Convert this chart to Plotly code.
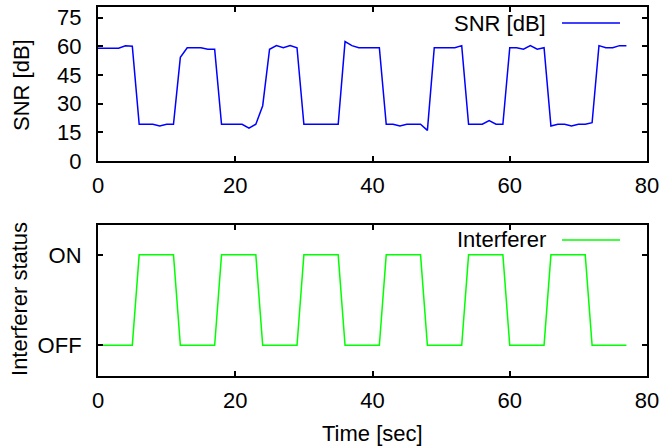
import plotly.graph_objects as go
from plotly.subplots import make_subplots

time_sec = list(range(0, 78))
snr_db = [59, 59, 59, 59, 60.2, 60, 19.2, 19.2, 19.2, 18.3,
          19.2, 19.2, 54.2, 59.2, 59.2, 59.2, 58.4, 58.4, 19.2, 19.2,
          19.2, 19.2, 17.2, 19.2, 28.9, 58.4, 60.3, 59.2, 60.3, 59.2,
          19.2, 19.2, 19.2, 19.2, 19.2, 19.2, 62.4, 60.3, 59.2, 59.2,
          59.2, 59.2, 19.2, 19.2, 18.3, 19.2, 19.2, 19.2, 16.0, 59.2,
          59.2, 59.2, 59.2, 60.3, 19.2, 19.2, 19.2, 21.1, 19.2, 19.2,
          59.2, 59.2, 58.4, 60.3, 58.4, 59.2, 18.3, 19.2, 19.2, 18.3,
          19.2, 19.2, 20.0, 60.3, 59.2, 59.2, 60.3, 60.3]
interferer = [0, 0, 0, 0, 0, 0, 1, 1, 1, 1, 1, 1,
              0, 0, 0, 0, 0, 0, 1, 1, 1, 1, 1, 1,
              0, 0, 0, 0, 0, 0, 1, 1, 1, 1, 1, 1,
              0, 0, 0, 0, 0, 0, 1, 1, 1, 1, 1, 1,
              0, 0, 0, 0, 0, 0, 1, 1, 1, 1, 1, 1,
              0, 0, 0, 0, 0, 0, 1, 1, 1, 1, 1, 1,
              0, 0, 0, 0, 0, 0]
x_ticks = [0, 20, 40, 60, 80]
snr_ticks = [0, 15, 30, 45, 60, 75]
status_ticks = [0, 1]
status_labels = ["OFF", "ON"]

FONT = "Liberation Sans, Arial, Helvetica, sans-serif"
FS = 22

fig = make_subplots(rows=2, cols=1, vertical_spacing=0.1735)
fig.add_trace(go.Scatter(x=time_sec, y=snr_db, mode="lines", name="SNR [dB]",
                         line=dict(color="#0000ff", width=1.5)), row=1, col=1)
fig.add_trace(go.Scatter(x=time_sec, y=interferer, mode="lines", name="Interferer",
                         line=dict(color="#00ff00", width=1.5)), row=2, col=1)

axis_common = dict(showline=True, linecolor="black", linewidth=2, mirror="allticks",
                   ticks="inside", ticklen=5, tickwidth=2, tickcolor="black",
                   showgrid=False, zeroline=False, automargin=False,
                   tickfont=dict(family=FONT, size=FS, color="black"))

fig.update_xaxes(range=[0, 80], tickvals=x_ticks, ticklabelstandoff=4, **axis_common)
fig.update_yaxes(row=1, col=1, range=[0, 80.5], tickvals=snr_ticks, ticklabelstandoff=10,
                 **axis_common)
fig.update_yaxes(row=2, col=1, range=[-0.34, 1.33], tickvals=status_ticks, ticktext=status_labels,
                 ticklabelstandoff=10, **axis_common)

fig.update_layout(
    width=662, height=446,
    margin=dict(l=98, r=15, t=7, b=70, autoexpand=False),
    paper_bgcolor="white", plot_bgcolor="white",
    showlegend=False, hovermode=False,
    font=dict(family=FONT, size=FS, color="black"),
)
fig.layout.yaxis.domain = [0.5827, 1.0]
fig.layout.yaxis2.domain = [0.0, 0.4092]

# axis titles
fig.add_annotation(x=-0.1403, y=0.7886, xref="paper", yref="paper", text="SNR [dB]",
                   textangle=-90, showarrow=False, xanchor="center", yanchor="middle",
                   font=dict(family=FONT, size=FS, color="black"))
fig.add_annotation(x=-0.1421, y=0.2087, xref="paper", yref="paper", text="Interferer status",
                   textangle=-90, showarrow=False, xanchor="center", yanchor="middle",
                   font=dict(family=FONT, size=FS, color="black"))
fig.add_annotation(x=0.5, y=-0.1545, xref="paper", yref="paper", text="Time [sec]",
                   showarrow=False, xanchor="center", yanchor="middle",
                   font=dict(family=FONT, size=FS, color="black"))

# legend-like keys (gnuplot style: text then sample line)
for txt, ypos, col in [("SNR [dB]", 0.9566, "#0000ff"), ("Interferer", 0.3686, "#00ff00")]:
    fig.add_annotation(x=0.8197, y=ypos, xref="paper", yref="paper", text=txt,
                       showarrow=False, xanchor="right", yanchor="middle",
                       font=dict(family=FONT, size=FS, color="black"))
    fig.add_shape(type="line", xref="paper", yref="paper", x0=0.8452, x1=0.9508,
                  y0=ypos, y1=ypos, line=dict(color=col, width=1.5))

fig.write_html("out.html", config={"displayModeBar": False, "staticPlot": True},
               post_script="document.body.style.margin='0';document.body.style.overflow='hidden';")
